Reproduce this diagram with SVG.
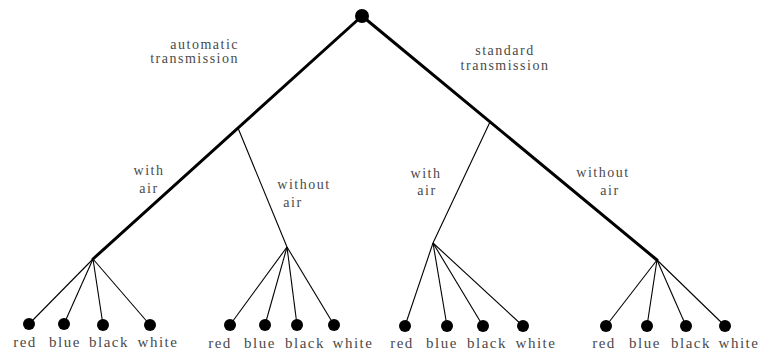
<svg xmlns="http://www.w3.org/2000/svg" width="760" height="356" viewBox="0 0 760 356">
<style>
.bg{fill:#ffffff}
.thick{stroke:#000;stroke-width:3;fill:none;stroke-linecap:round}
.thin{stroke:#000;stroke-width:1.1;fill:none}
.dot{fill:#000}
.lbl{font-family:"Liberation Serif","Times New Roman",serif;font-size:14px;fill:#4a4a4a;letter-spacing:1.5px}
.leaf{font-family:"Liberation Serif","Times New Roman",serif;font-size:15px;fill:#4a4a4a;letter-spacing:1.5px;text-anchor:middle}
</style>
<rect class="bg" x="0" y="0" width="760" height="356"/>
<g id="connectors">
  <line class="thick" x1="362" y1="16" x2="93" y2="259"/>
  <line class="thick" x1="362" y1="16" x2="657" y2="260"/>
  <line class="thin" x1="238" y1="128" x2="287" y2="247"/>
  <line class="thin" x1="490" y1="122" x2="433" y2="243"/>
  <line class="thin" x1="93" y1="259" x2="29" y2="324"/>
  <line class="thin" x1="93" y1="259" x2="64" y2="324"/>
  <line class="thin" x1="93" y1="259" x2="103" y2="325"/>
  <line class="thin" x1="93" y1="259" x2="150" y2="325"/>
  <line class="thin" x1="287" y1="247" x2="230" y2="325"/>
  <line class="thin" x1="287" y1="247" x2="265" y2="325"/>
  <line class="thin" x1="287" y1="247" x2="297" y2="325"/>
  <line class="thin" x1="287" y1="247" x2="334" y2="325"/>
  <line class="thin" x1="433" y1="243" x2="405" y2="326"/>
  <line class="thin" x1="433" y1="243" x2="447" y2="326"/>
  <line class="thin" x1="433" y1="243" x2="483" y2="326"/>
  <line class="thin" x1="433" y1="243" x2="523" y2="326"/>
  <line class="thin" x1="657" y1="260" x2="606" y2="326"/>
  <line class="thin" x1="657" y1="260" x2="647" y2="326"/>
  <line class="thin" x1="657" y1="260" x2="686" y2="326"/>
  <line class="thin" x1="657" y1="260" x2="725" y2="326"/>
</g>
<g id="edge-labels">
  <text class="lbl" x="239" y="49" text-anchor="end">automatic</text>
  <text class="lbl" x="239" y="63" text-anchor="end">transmission</text>
  <text class="lbl" x="505" y="55" text-anchor="middle">standard</text>
  <text class="lbl" x="505" y="70" text-anchor="middle">transmission</text>
  <text class="lbl" x="149" y="175" text-anchor="middle">with</text>
  <text class="lbl" x="149" y="193" text-anchor="middle">air</text>
  <text class="lbl" x="304" y="189" text-anchor="middle">without</text>
  <text class="lbl" x="293" y="207" text-anchor="middle">air</text>
  <text class="lbl" x="426" y="178" text-anchor="middle">with</text>
  <text class="lbl" x="427" y="195" text-anchor="middle">air</text>
  <text class="lbl" x="603" y="177" text-anchor="middle">without</text>
  <text class="lbl" x="610" y="195" text-anchor="middle">air</text>
</g>
<g id="root"><circle class="dot" cx="362" cy="16" r="7"/></g>
<g id="auto-air-red"><circle class="dot" cx="29" cy="324" r="6"/><text class="leaf" x="25" y="347">red</text></g>
<g id="auto-air-blue"><circle class="dot" cx="64" cy="324" r="6"/><text class="leaf" x="65" y="347">blue</text></g>
<g id="auto-air-black"><circle class="dot" cx="103" cy="325" r="6"/><text class="leaf" x="109" y="347">black</text></g>
<g id="auto-air-white"><circle class="dot" cx="150" cy="325" r="6"/><text class="leaf" x="158" y="347">white</text></g>
<g id="auto-noair-red"><circle class="dot" cx="230" cy="325" r="6"/><text class="leaf" x="220" y="348">red</text></g>
<g id="auto-noair-blue"><circle class="dot" cx="265" cy="325" r="6"/><text class="leaf" x="260" y="348">blue</text></g>
<g id="auto-noair-black"><circle class="dot" cx="297" cy="325" r="6"/><text class="leaf" x="305" y="348">black</text></g>
<g id="auto-noair-white"><circle class="dot" cx="334" cy="325" r="6"/><text class="leaf" x="353" y="348">white</text></g>
<g id="std-air-red"><circle class="dot" cx="405" cy="326" r="6"/><text class="leaf" x="402" y="348">red</text></g>
<g id="std-air-blue"><circle class="dot" cx="447" cy="326" r="6"/><text class="leaf" x="442" y="348">blue</text></g>
<g id="std-air-black"><circle class="dot" cx="483" cy="326" r="6"/><text class="leaf" x="487" y="348">black</text></g>
<g id="std-air-white"><circle class="dot" cx="523" cy="326" r="6"/><text class="leaf" x="536" y="348">white</text></g>
<g id="std-noair-red"><circle class="dot" cx="606" cy="326" r="6"/><text class="leaf" x="604" y="348">red</text></g>
<g id="std-noair-blue"><circle class="dot" cx="647" cy="326" r="6"/><text class="leaf" x="645" y="348">blue</text></g>
<g id="std-noair-black"><circle class="dot" cx="686" cy="326" r="6"/><text class="leaf" x="691" y="348">black</text></g>
<g id="std-noair-white"><circle class="dot" cx="725" cy="326" r="6"/><text class="leaf" x="739" y="348">white</text></g>
</svg>
